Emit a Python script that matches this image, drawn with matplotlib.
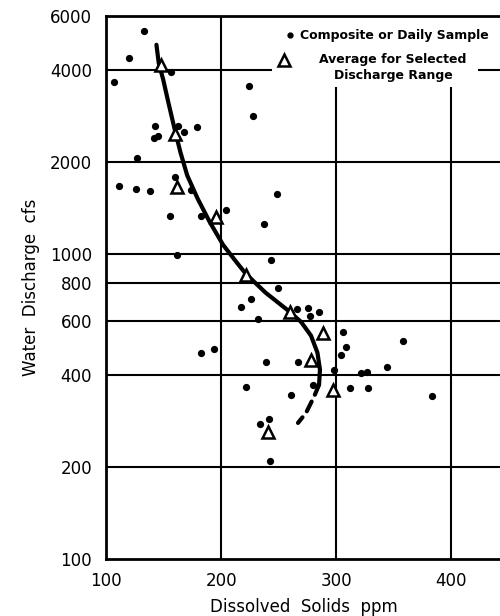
import matplotlib
matplotlib.use("Agg")
import matplotlib.pyplot as plt
from matplotlib.patches import Rectangle

# Individual composite or daily samples: dissolved solids (ppm), discharge (cfs)
sample_ppm = [132.8, 119.9, 156.5, 107.1, 224.3, 227.4, 142.9, 141.3, 145.3, 162.5,
              167.9, 178.6, 126.5, 111.6, 125.9, 138.4, 160.1, 173.8, 248.3, 155.6,
              182.8, 204.5, 237.3, 161.9, 243.0, 249.2, 226.3, 217.0, 266.1, 275.7,
              285.0, 277.1, 231.6, 306.1, 308.1, 304.1, 358.0, 182.8, 194.0, 239.2,
              266.9, 297.7, 321.5, 326.7, 344.1, 221.4, 279.4, 312.2, 327.6, 383.5,
              260.8, 233.9, 241.8, 242.6]
sample_cfs = [5350, 4360, 3920, 3640, 3550, 2825, 2610, 2385, 2435, 2610,
              2495, 2590, 2060, 1667, 1633, 1600, 1783, 1614, 1566, 1333,
              1333, 1390, 1250, 988, 950, 769, 708, 668, 659, 662,
              646, 627, 612, 555, 495, 464, 518, 473, 489, 441,
              443, 415, 407, 409, 427, 366, 372, 363, 363, 343,
              344, 277, 288, 210]

# Averages for selected discharge ranges
avg_ppm = [147.6, 160.1, 161.6, 195.8, 221.4, 259.6, 288.7, 278.4, 296.9, 240.4]
avg_cfs = [4150, 2465, 1655, 1320, 854, 643, 551, 447, 357, 260]

# Fitted relation (solid) and its extrapolated tail (dashed)
curve_ppm = [143.8, 145.8, 149.7, 154.2, 159.6, 164.6, 170.5, 179.5, 189.9, 201.7,
             213.0, 221.4, 238.4, 258.2, 269.5, 278.0, 283.6, 285.8, 285.0]
curve_cfs = [4830, 4206, 3712, 3121, 2557, 2150, 1805, 1516, 1273, 1068,
             941, 859, 746, 651, 597, 539, 474, 417, 372]
tail_ppm = [285.0, 280.8, 273.7, 266.7]
tail_cfs = [372, 341, 301, 279]

x_ticks = [100, 200, 300, 400]
y_ticks = [100, 200, 400, 600, 800, 1000, 2000, 4000, 6000]
x_grid = [200, 300, 400]
y_grid = [200, 400, 600, 800, 1000, 2000, 4000]

plt.rcParams['font.family'] = ['DejaVu Sans']

fig = plt.figure(figsize=(5.0, 6.16), dpi=100)
ax = fig.add_axes([0.212, 0.0925, 0.79, 0.8815])
ax.set_yscale('log')
ax.set_xlim(100, 443)
ax.set_ylim(100, 6000)

for gx in x_grid:
    ax.axvline(gx, color='black', lw=1.5, zorder=1)
for gy in y_grid:
    ax.axhline(gy, color='black', lw=1.5, zorder=1)

# blank area behind the key
ax.add_patch(Rectangle((0.421, 0.869), 0.521, 0.14, transform=ax.transAxes,
                       facecolor='white', edgecolor='none', zorder=2))

ax.plot(curve_ppm, curve_cfs, color='black', lw=3.0, solid_capstyle='round',
        solid_joinstyle='round', zorder=3)
ax.plot(tail_ppm, tail_cfs, color='black', lw=3.0, dashes=(2.6, 1.8),
        dash_capstyle='round', zorder=3)

ax.plot(sample_ppm, sample_cfs, 'o', color='black', ms=4.2, zorder=4)
ax.plot(avg_ppm, avg_cfs, '^', mfc='white', mec='black', mew=1.8, ms=8.5, zorder=5)

# key
ax.plot([0.467], [0.965], 'o', color='black', ms=3.5, transform=ax.transAxes, zorder=6)
ax.text(0.731, 0.965, 'Composite or Daily Sample', transform=ax.transAxes,
        ha='center', va='center', fontsize=9, fontweight='bold', zorder=6)
ax.plot([0.450], [0.919], '^', mfc='white', mec='black', mew=1.8, ms=8,
        transform=ax.transAxes, zorder=6)
ax.text(0.726, 0.920, 'Average for Selected', transform=ax.transAxes,
        ha='center', va='center', fontsize=9, fontweight='bold', zorder=6)
ax.text(0.728, 0.891, 'Discharge Range', transform=ax.transAxes,
        ha='center', va='center', fontsize=9, fontweight='bold', zorder=6)

ax.set_xticks(x_ticks)
ax.set_xticklabels([str(v) for v in x_ticks])
ax.set_yticks(y_ticks)
ax.set_yticklabels([str(v) for v in y_ticks])
ax.yaxis.set_minor_locator(matplotlib.ticker.NullLocator())
ax.tick_params(axis='both', length=0, labelsize=12, colors='black')
ax.tick_params(axis='y', pad=10)
ax.tick_params(axis='x', pad=9)

for side in ['left', 'bottom', 'top']:
    ax.spines[side].set_linewidth(2.0)
ax.spines['right'].set_visible(False)

ax.set_xlabel('Dissolved  Solids  ppm', fontsize=12, labelpad=6)
ax.set_ylabel('Water  Discharge  cfs', fontsize=12, labelpad=7)

fig.savefig('out.png', dpi=100)
